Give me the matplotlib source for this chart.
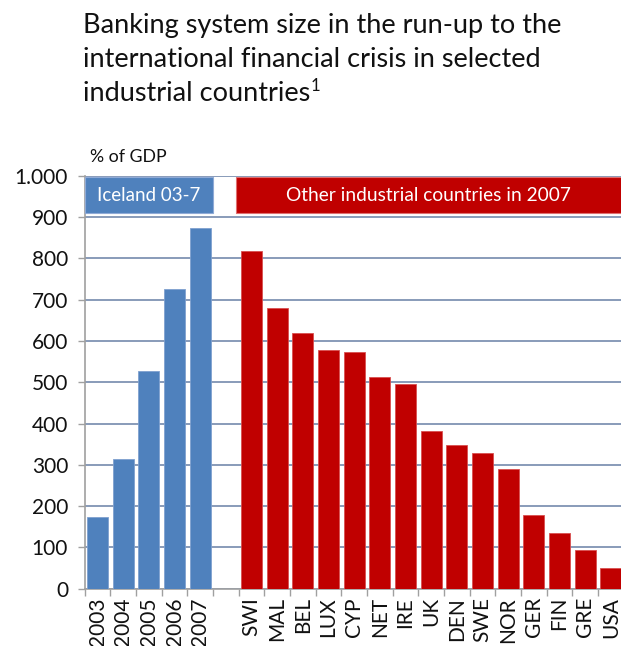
import matplotlib
matplotlib.use("Agg")
import matplotlib.pyplot as plt
from matplotlib.patches import Rectangle

# ---- data ----
iceland_years = ["2003", "2004", "2005", "2006", "2007"]
iceland_values = [173, 315, 528, 725, 873]
countries = ["SWI", "MAL", "BEL", "LUX", "CYP", "NET", "IRE", "UK", "DEN",
             "SWE", "NOR", "GER", "FIN", "GRE", "USA"]
country_values = [817, 680, 620, 577, 573, 513, 496, 382, 347, 329, 290,
                  178, 134, 93, 49]
y_ticks = [0, 100, 200, 300, 400, 500, 600, 700, 800, 900, 1000]
y_tick_labels = ["0", "100", "200", "300", "400", "500", "600", "700", "800",
                 "900", "1.000"]

BLUE = "#4F81BD"
RED = "#C00000"
FONT = "Lato"
TXT = "#111111"

W, H = 621, 646
fig = plt.figure(figsize=(W / 100, H / 100), dpi=100)

# axes placement in pixels
x0, x1 = 84.7, 623.7
y0, y1 = 588.7, 175.7
ax = fig.add_axes([x0 / W, 1 - y0 / H, (x1 - x0) / W, (y0 - y1) / H])

n_ice = len(iceland_years)
xs_ice = list(range(n_ice))
xs_cty = [n_ice + 1 + i for i in range(len(countries))]
ax.bar(xs_ice, iceland_values, width=0.82, color=BLUE, zorder=3,
       edgecolor="#7FA0CF", linewidth=0.6)
ax.bar(xs_cty, country_values, width=0.82, color=RED, zorder=3,
       edgecolor="#D85050", linewidth=0.6)

nslots = n_ice + 1 + len(countries)
ax.set_xlim(-0.5, nslots - 0.5)
ax.set_ylim(0, 1000)

ax.set_yticks(y_ticks)
ax.set_yticklabels(y_tick_labels, fontsize=15, family=FONT, color=TXT)
ax.yaxis.grid(True, color="#7F93B3", linewidth=1.3, zorder=0)
ax.set_axisbelow(True)

all_x = xs_ice + xs_cty
all_labels = iceland_years + countries
ax.set_xticks(all_x)
ax.set_xticklabels(all_labels, rotation=90, fontsize=15, family=FONT,
                   color=TXT)
ax.tick_params(axis="x", length=0, pad=6)
ax.set_xticks([i - 0.5 for i in range(nslots + 1)], minor=True)
ax.tick_params(axis="x", which="minor", length=5, color="#A0A0A0", width=1)
ax.tick_params(axis="y", length=5, color="#A0A0A0", width=1, pad=7)

for s in ["top", "right"]:
    ax.spines[s].set_visible(False)
for s in ["left", "bottom"]:
    ax.spines[s].set_color("#A0A0A0")
    ax.spines[s].set_linewidth(1.2)

# header banners
ax.add_patch(Rectangle((-0.5, 909), 5.0, 88, facecolor=BLUE, edgecolor="#8FAAD6",
                       linewidth=0.8, zorder=4, clip_on=False))
ax.text(2.0, 953, "Iceland 03-7", ha="center", va="center", color="white",
        fontsize=13.5, family=FONT, zorder=5)
ax.add_patch(Rectangle((5.4, 909), nslots - 0.5 - 5.4, 88, facecolor=RED,
                       edgecolor="#E07070", linewidth=0.8, zorder=4))
ax.text(12.9, 953, "Other industrial countries in 2007", ha="center",
        va="center", color="white", fontsize=13.8, family=FONT, zorder=5)

# unit label
fig.text(90 / W, 1 - 157 / H, "% of GDP", fontsize=12.8, family=FONT,
         color=TXT, va="center", ha="left")

# title
TS = 19.5
fig.text(83 / W, 1 - 33 / H, "Banking system size in the run-up to the",
         fontsize=TS, family=FONT, color=TXT, va="baseline")
fig.text(83 / W, 1 - 67 / H, "international financial crisis in selected",
         fontsize=TS, family=FONT, color=TXT, va="baseline")
t3 = fig.text(83 / W, 1 - 101 / H, "industrial countries",
              fontsize=TS, family=FONT, color=TXT, va="baseline")
fig.canvas.draw()
bb = t3.get_window_extent()
fig.text((bb.x1 + 0.5) / W, (H - 101 + 10) / H, "1", fontsize=12, family=FONT,
         color=TXT, va="baseline")

fig.savefig("out.png", dpi=100)
